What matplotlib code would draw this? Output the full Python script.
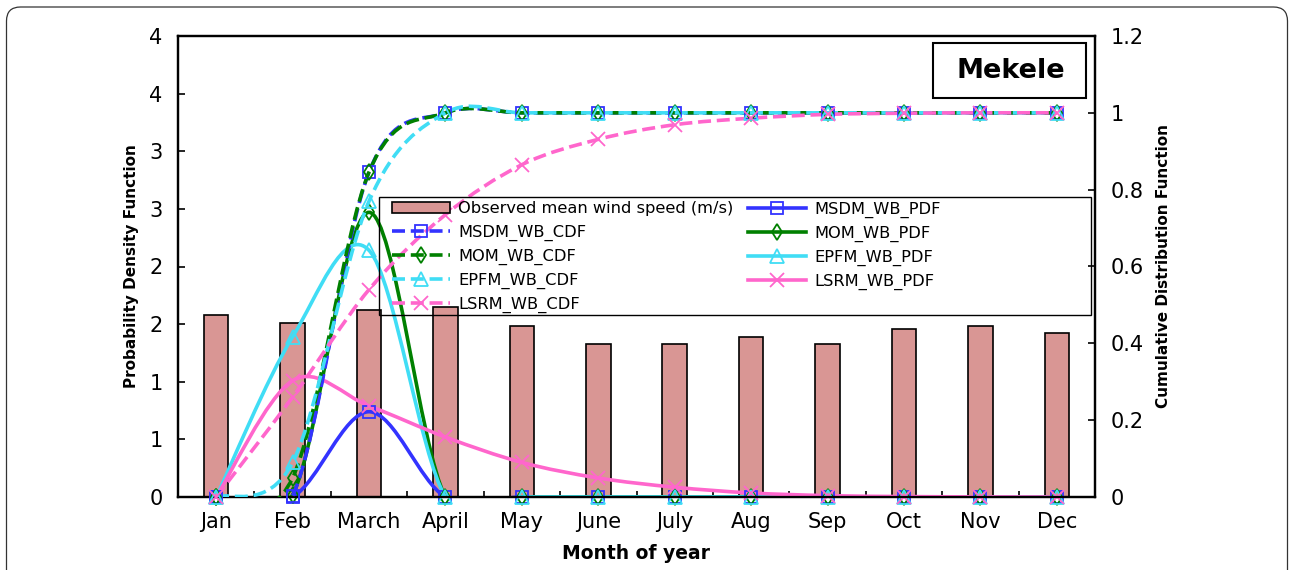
import numpy as np
import matplotlib
matplotlib.use('Agg')
import matplotlib.pyplot as plt
from matplotlib.path import Path
from matplotlib.patches import PathPatch, Patch, Rectangle, FancyBboxPatch
from matplotlib.lines import Line2D
from matplotlib.ticker import MultipleLocator, FuncFormatter
from matplotlib.transforms import IdentityTransform

# ── Data ──────────────────────────────────────────────────────────────────────
months = ['Jan', 'Feb', 'March', 'April', 'May', 'June',
          'July', 'Aug', 'Sep', 'Oct', 'Nov', 'Dec']
wind_speed = [1.58, 1.51, 1.62, 1.65, 1.48, 1.33, 1.33, 1.39, 1.33, 1.46, 1.48, 1.42]

msdm_pdf = [0, 0.0, 0.74, 0, 0, 0, 0, 0, 0, 0, 0, 0]
mom_pdf  = [0, 0.02, 2.47, 0, 0, 0, 0, 0, 0, 0, 0, 0]
epfm_pdf = [0, 1.39, 2.14, 0, 0, 0, 0, 0, 0, 0, 0, 0]
lsrm_pdf = [0, 1.01, 0.79, 0.52, 0.30, 0.165, 0.085, 0.035, 0.012, 0.004, 0.001, 0]

msdm_cdf = [0, 0.003, 0.846, 1, 1, 1, 1, 1, 1, 1, 1, 1]
mom_cdf  = [0, 0.05, 0.846, 1, 1, 1, 1, 1, 1, 1, 1, 1]
epfm_cdf = [0, 0.09, 0.77, 1, 1, 1, 1, 1, 1, 1, 1, 1]
lsrm_cdf = [0, 0.26, 0.54, 0.735, 0.865, 0.931, 0.969, 0.986, 0.996, 0.999, 1, 1]

BLUE  = '#3333FF'
GREEN = '#008000'
CYAN  = '#40DDF5'
PINK  = '#FF66CC'
BAR   = '#D99694'
DASH  = (0, (3.6, 1.6))


def smooth_path(xs, ys):
    """Excel-like smoothed line (Catmull-Rom through the points)."""
    n = len(xs)
    verts = [(xs[0], ys[0])]
    codes = [Path.MOVETO]
    for i in range(n - 1):
        xp, yp = (xs[i - 1], ys[i - 1]) if i > 0 else (xs[i], ys[i])
        xn, yn = (xs[i + 2], ys[i + 2]) if i + 2 < n else (xs[i + 1], ys[i + 1])
        c1 = (xs[i] + (xs[i + 1] - xp) / 6, ys[i] + (ys[i + 1] - yp) / 6)
        c2 = (xs[i + 1] - (xn - xs[i]) / 6, ys[i + 1] - (yn - ys[i]) / 6)
        verts += [c1, c2, (xs[i + 1], ys[i + 1])]
        codes += [Path.CURVE4] * 3
    return Path(verts, codes)


fig = plt.figure(figsize=(12.9, 5.7), dpi=100)
fig.patch.set_facecolor('white')
ax = fig.add_axes([178 / 1290, 1 - 497 / 570, 917 / 1290, 461 / 570])
ax2 = ax.twinx()

x = np.arange(len(months))

# ── Bars ──────────────────────────────────────────────────────────────────────
ax.bar(x, wind_speed, width=0.32, color=BAR, edgecolor='black', linewidth=1.2, zorder=1)

# ── PDF (left axis) and CDF (right axis) curves ──────────────────────────────
series = [
    (msdm_pdf, msdm_cdf, BLUE,  's', 9),
    (mom_pdf,  mom_cdf,  GREEN, 'd', 8),
    (epfm_pdf, epfm_cdf, CYAN,  '^', 10),
    (lsrm_pdf, lsrm_cdf, PINK,  'x', 10),
]
for pdf, cdf, col, mk, ms in series:
    ax.add_patch(PathPatch(smooth_path(x, pdf), fill=False, edgecolor=col,
                           linewidth=2.6, zorder=3))
    ax.plot(x, pdf, ls='none', marker=mk, ms=ms, mfc='none', mec=col, mew=1.3,
            clip_on=False, zorder=4)
    ax2.add_patch(PathPatch(smooth_path(x, cdf), fill=False, edgecolor=col,
                            linewidth=2.6, linestyle=DASH, zorder=3))
    ax2.plot(x, cdf, ls='none', marker=mk, ms=ms, mfc='none', mec=col, mew=1.3,
             clip_on=False, zorder=4)

# ── Axes ──────────────────────────────────────────────────────────────────────
ax.set_xlim(-0.5, len(months) - 0.5)
ax.set_ylim(0, 4)
ax2.set_ylim(0, 1.2)

ax.set_xticks(x)
ax.set_xticklabels(months)
ax.set_xticks(np.arange(-0.5, len(months), 1), minor=True)
ax.tick_params(axis='x', which='major', length=0, pad=11, labelsize=15)
ax.tick_params(axis='x', which='minor', direction='in', length=4.5, width=1.2)

ax.yaxis.set_major_locator(MultipleLocator(0.5))
ax.yaxis.set_major_formatter(FuncFormatter(lambda v, _: f'{int(np.floor(v + 0.5 + 1e-9))}'))
ax.tick_params(axis='y', direction='in', length=5, width=1.2, pad=11, labelsize=15)

ax2.yaxis.set_major_locator(MultipleLocator(0.2))
ax2.yaxis.set_major_formatter(FuncFormatter(lambda v, _: f'{round(v, 1):g}'))
ax2.tick_params(axis='y', direction='in', length=5, width=1.2, pad=11, labelsize=15)

for a in (ax, ax2):
    for s in a.spines.values():
        s.set_linewidth(1.6)
        s.set_color('black')

ax.set_xlabel('Month of year', fontsize=13.5, fontweight='bold')
ax.xaxis.set_label_coords(0.5, -0.102)
ax.set_ylabel('Probability Density Function', fontsize=11, fontweight='bold')
ax.yaxis.set_label_coords(-0.043, 0.5)
ax2.set_ylabel('Cumulative Distribution Function', fontsize=11, fontweight='bold')
ax2.yaxis.set_label_coords(1.0665, 0.5)

# ── Legend (transparent, framed by hand) ─────────────────────────────────────
handles = [Patch(facecolor=BAR, edgecolor='black', linewidth=1.2,
                 label='Observed mean wind speed (m/s)')]
for name, (_, _, col, mk, ms) in zip(['MSDM', 'MOM', 'EPFM', 'LSRM'], series):
    handles.append(Line2D([], [], color=col, lw=2.6, ls=DASH, marker=mk, ms=ms,
                          mfc='none', mec=col, mew=1.3, label=f'{name}_WB_CDF'))
for name, (_, _, col, mk, ms) in zip(['MSDM', 'MOM', 'EPFM', 'LSRM'], series):
    handles.append(Line2D([], [], color=col, lw=2.6, ls='-', marker=mk, ms=ms,
                          mfc='none', mec=col, mew=1.3, label=f'{name}_WB_PDF'))

leg = ax2.legend(handles=handles, loc='upper left', bbox_to_anchor=(0.2334, 0.641),
                 ncol=2, frameon=False, fontsize=11.7, handlelength=3.57,
                 handletextpad=0.5, columnspacing=0.92, labelspacing=0.48,
                 borderpad=0, borderaxespad=0, numpoints=1)
ax2.add_patch(Rectangle((0.219, 0.395), 0.7766, 0.256, transform=ax2.transAxes,
                        fill=False, edgecolor='black', linewidth=1.0, zorder=5,
                        clip_on=False))

# ── Station box ──────────────────────────────────────────────────────────────
ax2.add_patch(Rectangle((0.823, 0.8655), 0.167, 0.1195, transform=ax2.transAxes,
                        facecolor='white', edgecolor='black', linewidth=1.5, zorder=6))
ax2.text(0.908, 0.925, 'Mekele', transform=ax2.transAxes, ha='center', va='center',
         fontsize=19.5, fontweight='bold', zorder=7)

# ── Rounded frame round the figure ───────────────────────────────────────────
fig.patches.append(FancyBboxPatch((6.5, -30), 1281, 593,
                                  boxstyle='round,pad=0,rounding_size=14',
                                  transform=IdentityTransform(), fill=False,
                                  edgecolor='#333333', linewidth=0.9))

fig.savefig('out.png', dpi=100)
